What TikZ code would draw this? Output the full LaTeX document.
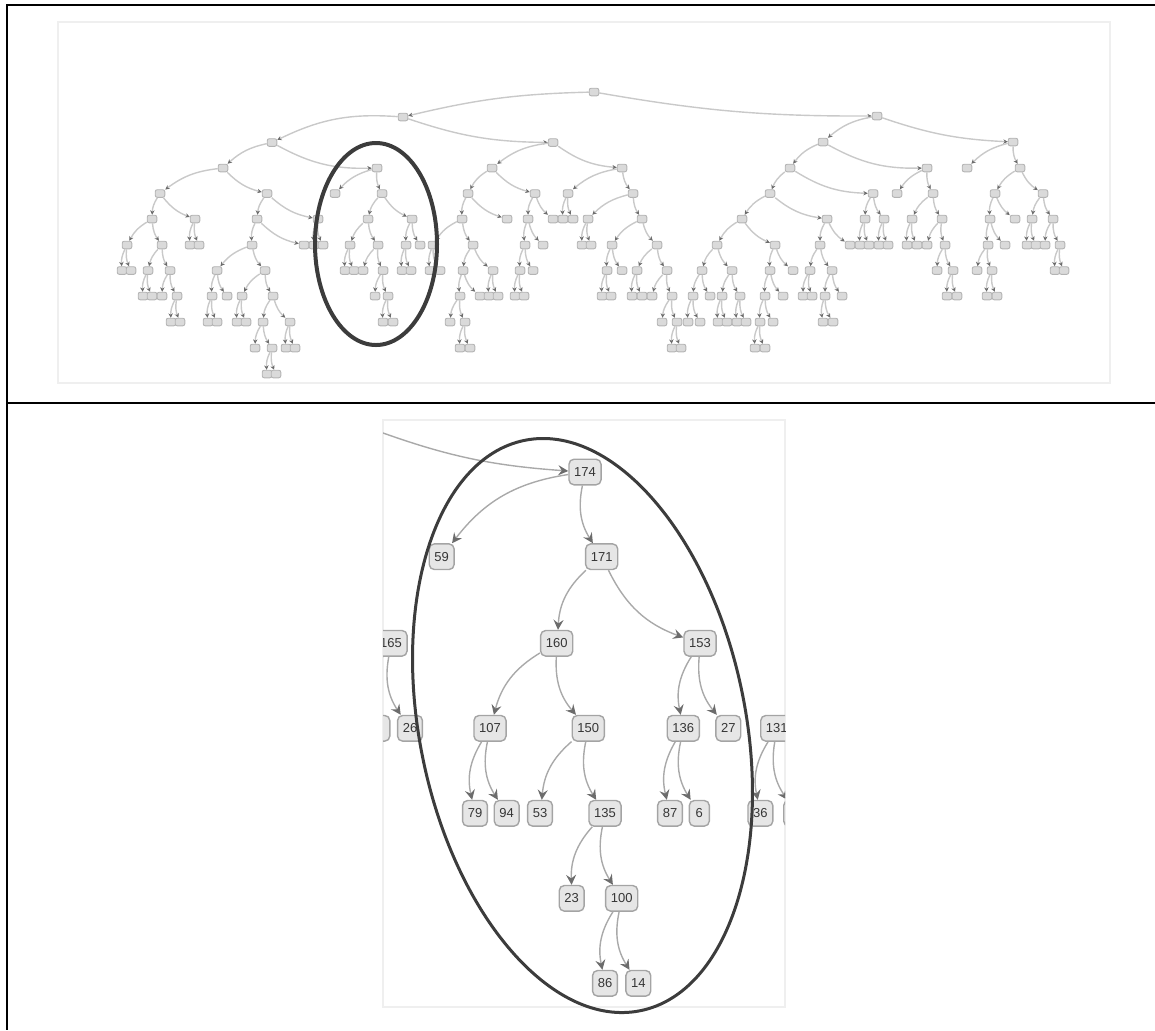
\documentclass[tikz,border=0pt]{standalone}
\usepackage{fontspec}
\setsansfont{Liberation Sans}
\usetikzlibrary{arrows.meta}
\definecolor{bstInk}{HTML}{363636}
\definecolor{bstRing}{HTML}{3C3C3C}
\definecolor{bstShot}{HTML}{EFEFEF}
\definecolor{bstMiniFill}{HTML}{DADADA}
\definecolor{bstMiniEdge}{HTML}{B4B4B4}
\definecolor{bstMiniLine}{HTML}{C9C9C9}
\definecolor{bstKeyFill}{HTML}{E6E6E6}
\definecolor{bstKeyEdge}{HTML}{A4A4A4}
\definecolor{bstLine}{HTML}{A9A9A9}
\definecolor{bstTip}{HTML}{6C6C6C}
\tikzset{
  bst frame/.style={draw=black, line width=1pt},
  bst shot/.style={draw=bstShot, line width=0.6pt},
  bst ring/.style={draw=bstRing, line width=1.5pt},
  bst mini/.style={rectangle, rounded corners=1pt, draw=bstMiniEdge, fill=bstMiniFill, line width=0.45pt, minimum width=4.8pt, minimum height=3.8pt, inner sep=0pt},
  bst mini link/.style={draw=bstMiniLine, line width=0.7pt, bend right=15, -{Stealth[length=2.2pt,width=2.2pt,color=bstTip]}},
  bst key/.style={rectangle, rounded corners=2.5pt, draw=bstKeyEdge, fill=bstKeyFill, line width=0.7pt, minimum height=12.8pt, minimum width=10pt, inner xsep=2.6pt, inner ysep=0pt, font=\sffamily\fontsize{6.5}{7}\selectfont, text=bstInk},
  bst link/.style={draw=bstLine, line width=0.7pt, bend right=22, -{Stealth[length=5pt,width=5pt,inset=1.8pt,color=bstTip]}},
}

\begin{document}
\begin{tikzpicture}[x=0.5pt, y=-0.5pt]
  \useasboundingbox (0,0) rectangle (1155,1030);
  % Table rules
  \draw[bst frame] (1155,4.5) -- (6.5,4.5) -- (6.5,1030);
  \draw[bst frame] (6.5,402.5) -- (1155,402.5);
  % Faint screenshot borders
  \draw[bst shot] (58,22) rectangle (1110,383);
  \draw[bst shot] (383,420) rectangle (785,1007);

  % Whole tree, shrunk
  \foreach \n/\x/\y in {r/594/92, a/403/117, b/877/116, a1/272/142.5, a2/553/142.5,
    c1/223/168, z174/377/168, c2/160/193.5, c3/267/193.5, c4/152/219, c5/195/219,
    c6/127/245, c7/162/245, l1/122/270.5, l2/131/270.5, c8/148/270.5, c9/170/270.5,
    l3/143/296, l4/152/296, l5/162/296, c10/177/296, l6/171/322, l7/180/322,
    l8/190/245, l9/199/245, c11/257/219, n165/318/219, c12/252/245, l10/304/245,
    c13/217/270.5, c14/265/270.5, c15/212/296, l11/227/296, l12/208/322, l13/217/322,
    c16/242/296, c17/273/296, l14/237/322, l15/246/322, c18/263/322, c19/290/322,
    l16/255/348, c20/272/348, l17/267/374, l18/276/374, l19/286/348, l20/295/348,
    l21/314/245, l22/323/245,
    z59/335/193.5, z171/382/193.5, z160/368/219, z153/412/219,
    z107/350/245, z150/378/245, z136/406/245, z27/420/245,
    z79/345/270.5, z94/354/270.5, z53/363/270.5, z135/383/270.5, z87/402/270.5, z6/411/270.5,
    z23/375/296, z100/388/296, z86/383/322, z14/393/322,
    d1/492/168, d2/622/168, d3/468/193.5, d4/535/193.5, d5/462/219, m1/507/219,
    d6/433/245, d7/473/245, m2/430/270.5, m3/440/270.5, d8/463/270.5, d9/493/270.5,
    d10/460/296, m4/480/296, m5/450/322, d11/465/322, m6/460/348, m7/470/348,
    m8/489/296, m9/498/296, d12/528/219, m10/553/219, d13/525/245, m11/543/245,
    d14/520/270.5, m12/533/270.5, m13/515/296, m14/524/296,
    d15/568/193.5, d16/633/193.5, m15/563/219, m16/573/219, d17/588/219, d18/642/219,
    m17/582/245, m18/591/245, d19/612/245, d20/657/245, d21/607/270.5, m19/622/270.5,
    m20/602/296, m21/611/296, d22/637/270.5, d23/667/270.5, m22/632/296, m23/642/296,
    m24/652/296, d24/672/296, m25/662/322, d25/677/322, m26/672/348, m27/681/348,
    e1/823/142, e2/1013/142, e3/790/168, e4/927/168, e5/770/193.5, e6/873/193.5,
    e7/742/219, e8/827/219, e9/717/245, e10/775/245, e11/702/270.5, e12/732/270.5,
    e13/693/296, n1/710/296, n2/688/322, n3/700/322, e14/722/296, e15/740/296,
    n4/718/322, n5/727/322, n6/737/322, n7/746/322, e16/770/270.5, n8/793/270.5,
    e17/765/296, n9/783/296, e18/760/322, n10/773/322, n11/755/348, n12/765/348,
    e19/820/245, n13/850/245, e20/810/270.5, e21/832/270.5, n14/803/296, n15/812/296,
    e22/825/296, n16/842/296, n17/823/322, n18/833/322,
    e23/865/219, e24/884/219, n19/860/245, n20/869/245, n21/879/245, n22/888/245,
    n23/897/193.5, e25/933/193.5, e26/912/219, e27/942/219, n24/907/245, n25/917/245,
    n26/927/245, e28/945/245, n27/937/270.5, e29/953/270.5, n28/947/296, n29/957/296,
    n30/967/168, e30/1020/168, e31/995/193.5, e32/1043/193.5, e33/990/219, n31/1015/219,
    e34/988/245, n32/1005/245, n33/977/270.5, e35/992/270.5, n34/987/296, n35/997/296,
    e36/1032/219, e37/1053/219, n36/1027/245, n37/1036/245, n38/1045/245, e38/1060/245,
    n39/1055/270.5, n40/1064/270.5}
    \node[bst mini] (\n) at (\x,\y) {};
  % long links bow less
  \draw[bst mini link, bend right=6] (r) to (a);
  \draw[bst mini link, bend right=5] (r) to (b);
  \draw[bst mini link, bend right=9] (a) to (a2);
  \draw[bst mini link, bend right=8] (b) to (e2);
  \foreach \p/\c in {a/a1, a1/c1, a1/z174, c1/c2, c1/c3, c2/c4, c2/c5,
    c4/c6, c4/c7, c6/l1, c6/l2, c7/c8, c7/c9, c8/l3, c8/l4, c9/l5, c9/c10, c10/l6, c10/l7,
    c5/l8, c5/l9, c3/c11, c3/n165, c11/c12, c11/l10, c12/c13, c12/c14, c13/c15, c13/l11,
    c15/l12, c15/l13, c14/c16, c14/c17, c16/l14, c16/l15, c17/c18, c17/c19, c18/l16,
    c18/c20, c20/l17, c20/l18, c19/l19, c19/l20, n165/l21, n165/l22,
    z174/z59, z174/z171, z171/z160, z171/z153, z160/z107, z160/z150, z153/z136, z153/z27,
    z107/z79, z107/z94, z150/z53, z150/z135, z136/z87, z136/z6, z135/z23, z135/z100,
    z100/z86, z100/z14,
    a2/d1, a2/d2, d1/d3, d1/d4, d3/d5, d3/m1, d5/d6, d5/d7, d6/m2, d6/m3, d7/d8, d7/d9,
    d8/d10, d8/m4, d10/m5, d10/d11, d11/m6, d11/m7, d9/m8, d9/m9, d4/d12, d4/m10,
    d12/d13, d12/m11, d13/d14, d13/m12, d14/m13, d14/m14, d2/d15, d2/d16, d15/m15,
    d15/m16, d16/d17, d16/d18, d17/m17, d17/m18, d18/d19, d18/d20, d19/d21, d19/m19,
    d21/m20, d21/m21, d20/d22, d20/d23, d22/m22, d22/m23, d23/m24, d23/d24, d24/m25,
    d24/d25, d25/m26, d25/m27,
    b/e1, e1/e3, e1/e4, e3/e5, e3/e6, e5/e7, e5/e8, e7/e9, e7/e10, e9/e11, e9/e12,
    e11/e13, e11/n1, e13/n2, e13/n3, e12/e14, e12/e15, e14/n4, e14/n5, e15/n6, e15/n7,
    e10/e16, e10/n8, e16/e17, e16/n9, e17/e18, e17/n10, e18/n11, e18/n12, e8/e19, e8/n13,
    e19/e20, e19/e21, e20/n14, e20/n15, e21/e22, e21/n16, e22/n17, e22/n18, e6/e23, e6/e24,
    e23/n19, e23/n20, e24/n21, e24/n22, e4/n23, e4/e25, e25/e26, e25/e27, e26/n24,
    e26/n25, e27/n26, e27/e28, e28/n27, e28/e29, e29/n28, e29/n29, e2/n30, e2/e30,
    e30/e31, e30/e32, e31/e33, e31/n31, e33/e34, e33/n32, e34/n33, e34/e35, e35/n34,
    e35/n35, e32/e36, e32/e37, e36/n36, e36/n37, e37/n38, e37/e38, e38/n39, e38/n40}
    \draw[bst mini link] (\p) to (\c);
  \draw[bst ring, line width=2pt] (376,244) ellipse [x radius=61, y radius=101];

  % Close-up of the circled part
  \begin{scope}
    \clip (383,420) rectangle (785,1007);
    \coordinate (kin) at (372,429);
    \node[bst key] (k174) at (585,472) {174};
    \node[bst key] (k59) at (441.7,556.7) {59};
    \node[bst key] (k171) at (601.7,556.7) {171};
    \node[bst key] (k165) at (391,643.3) {165};
    \node[bst key] (k160) at (556.7,643.3) {160};
    \node[bst key] (k153) at (700,643.3) {153};
    \node[bst key, minimum width=13.3pt] (kleft) at (376.5,728.3) {};
    \node[bst key] (k26) at (410,728.3) {26};
    \node[bst key] (k107) at (490,728.3) {107};
    \node[bst key] (k150) at (588.3,728.3) {150};
    \node[bst key] (k136) at (683.3,728.3) {136};
    \node[bst key] (k27) at (728.3,728.3) {27};
    \node[bst key] (k131) at (776.8,728.3) {131};
    \node[bst key] (k79) at (475,813.3) {79};
    \node[bst key] (k94) at (506.7,813.3) {94};
    \node[bst key] (k53) at (540,813.3) {53};
    \node[bst key] (k135) at (605,813.3) {135};
    \node[bst key] (k87) at (670,813.3) {87};
    \node[bst key] (k6) at (699.3,813.3) {6};
    \node[bst key] (k36) at (760.4,813.3) {36};
    \node[bst key, minimum width=13.3pt] (kright) at (797,813.3) {};
    \node[bst key] (k23) at (571.7,898.3) {23};
    \node[bst key] (k100) at (621.7,898.3) {100};
    \node[bst key] (k86) at (605,983.3) {86};
    \node[bst key] (k14) at (638.3,983.3) {14};
    \draw[bst link, bend right=8] (kin) to (k174);
    \foreach \p/\c in {k174/k59, k174/k171, k171/k160, k171/k153, k165/kleft, k165/k26,
      k160/k107, k160/k150, k153/k136, k153/k27, k131/k36, k131/kright, k107/k79,
      k107/k94, k150/k53, k150/k135, k136/k87, k136/k6, k135/k23, k135/k100,
      k100/k86, k100/k14}
      \draw[bst link] (\p) to (\c);
  \end{scope}
  \draw[bst ring, rotate around={11.5:(582.5,725.5)}] (582.5,725.5) ellipse [x radius=163, y radius=291];
\end{tikzpicture}
\end{document}
